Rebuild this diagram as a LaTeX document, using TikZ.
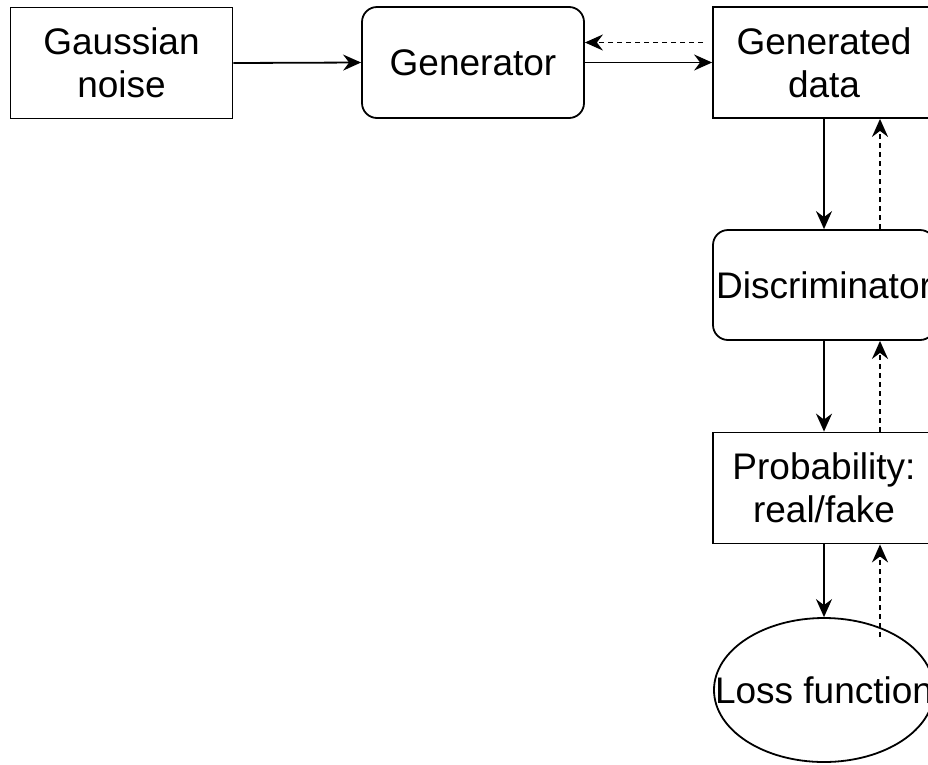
\documentclass[tikz,border=0pt]{standalone}
\usepackage{fontspec}
\setmainfont{Liberation Sans}
\usepackage{tikz}
\usetikzlibrary{arrows.meta, positioning, shapes.geometric, calc}

\begin{document}
\begin{tikzpicture}[x=1pt, y=-1pt,
    block/.style={draw, line width=1.8pt, minimum width=222pt, minimum height=111pt,
        inner sep=0pt, align=center, font={\fontsize{37}{43}\selectfont}},
    roundblock/.style={block, rounded corners=15pt},
    flow/.style={-{Stealth[length=18pt, width=16pt, inset=6pt]}, line width=1.8pt},
    back/.style={flow, dash pattern=on 5pt off 4pt}]
    \useasboundingbox (0,0) rectangle (928,764);
    \clip (0,0) rectangle (928,764);

    % Blocks
    \node[block] (noise) at (121.5,63) {Gaussian\\noise};
    \node[roundblock] (gen) at (473,62.5) {Generator};
    \node[block] (gdata) at (824,62.5) {Generated\\data};
    \node[roundblock, minimum height=110pt] (disc) at (824,285) {Discriminator};
    \node[block] (prob) at (824,488) {Probability:\\real/fake};
    \node[block, ellipse, minimum width=220pt, minimum height=144pt] (loss) at (824,690)
        {\makebox[0pt]{Loss function}};
    \coordinate (lossdash) at (880,637);

    % Forward pass
    \draw[flow] (noise.east) -- (gen.west);
    \draw[flow] (gen.east) -- (gdata.west);
    \draw[flow] (gdata) -- (disc);
    \draw[flow] (disc) -- (prob);
    \draw[flow] (prob) -- (loss);

    % Backward pass
    \draw[back] ([yshift=20pt, xshift=-9pt]gdata.west) -- ([yshift=20pt]gen.east);
    \draw[back] ([xshift=56pt]disc.north) -- ([xshift=56pt]gdata.south);
    \draw[back] ([xshift=56pt]prob.north) -- ([xshift=56pt]disc.south);
    \draw[back] (lossdash) -- (lossdash |- prob.south);
\end{tikzpicture}
\end{document}
